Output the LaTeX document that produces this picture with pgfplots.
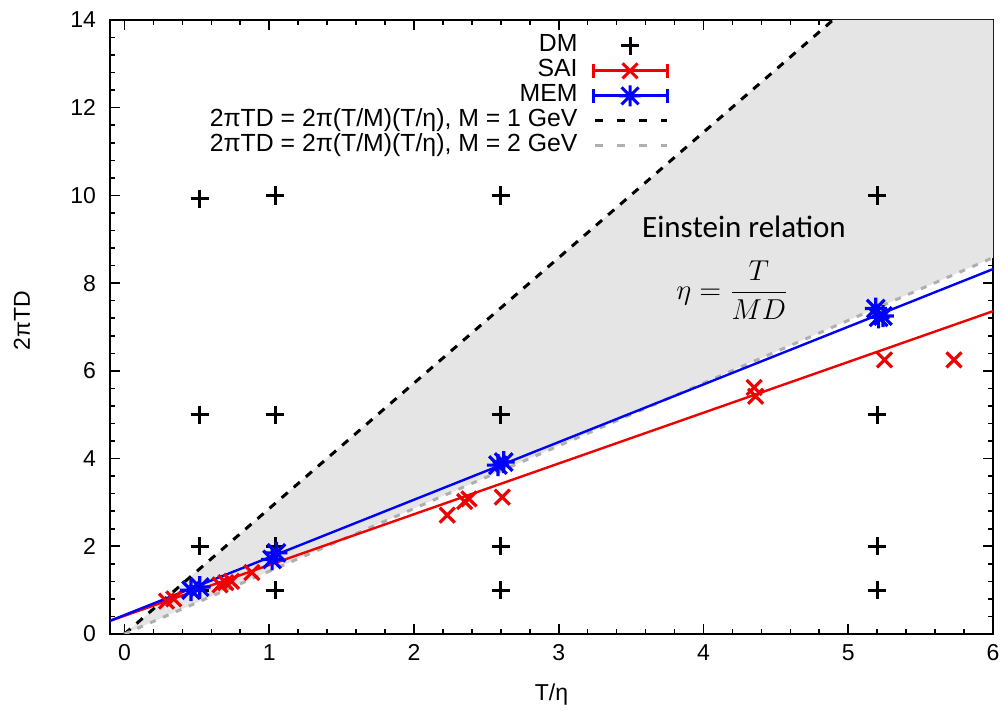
\documentclass[border=0pt]{standalone}
\usepackage{pgfplots}
\pgfplotsset{compat=1.18}
\usepackage{fontspec}
\setmainfont{Liberation Sans}
\newfontfamily\carlito{Carlito}
\definecolor{gpred}{RGB}{240,0,0}
\definecolor{gpblue}{RGB}{0,0,255}
\definecolor{shade}{RGB}{229,229,229}
\definecolor{dgray}{RGB}{175,175,175}
\pgfdeclareplotmark{gpstar}{%
  \pgfpathmoveto{\pgfqpoint{-\pgfplotmarksize}{0pt}}\pgfpathlineto{\pgfqpoint{\pgfplotmarksize}{0pt}}%
  \pgfpathmoveto{\pgfqpoint{0pt}{-\pgfplotmarksize}}\pgfpathlineto{\pgfqpoint{0pt}{\pgfplotmarksize}}%
  \pgfpathmoveto{\pgfqpoint{-0.8\pgfplotmarksize}{-0.8\pgfplotmarksize}}\pgfpathlineto{\pgfqpoint{0.8\pgfplotmarksize}{0.8\pgfplotmarksize}}%
  \pgfpathmoveto{\pgfqpoint{-0.8\pgfplotmarksize}{0.8\pgfplotmarksize}}\pgfpathlineto{\pgfqpoint{0.8\pgfplotmarksize}{-0.8\pgfplotmarksize}}%
  \pgfusepathqstroke}
\begin{document}
\begin{tikzpicture}
\useasboundingbox (-55pt,-38pt) rectangle (446.5pt,317pt);
\begin{axis}[
  at={(0,0)}, anchor=south west,
  scale only axis, width=441.5pt, height=307pt,
  xmin=-0.1, xmax=6, ymin=0, ymax=14,
  xtick={0,1,2,3,4,5,6}, ytick={0,2,4,6,8,10,12,14},
  minor x tick num=4, minor y tick num=4,
  tick align=inside,
  major tick length=5pt, minor tick length=2.5pt,
  every tick/.style={black, line width=0.8pt},
  axis line style={line width=1pt},
  ticklabel style={font=\fontsize{11.5}{13}\selectfont},
  /pgf/number format/assume math mode=true,
  yticklabel style={xshift=-3.5pt},
  xticklabel style={yshift=-1.7pt},
  xlabel={T/η}, ylabel={2πTD},
  label style={font=\fontsize{11.5}{13}\selectfont},
  xlabel style={at={(axis description cs:0.5,0)}, anchor=center, yshift=-30.5pt},
  ylabel style={at={(axis description cs:-0.0997,0.51)}, anchor=center},
  legend style={at={(0.633,0.978)}, anchor=north east, draw=none, fill=none,
    inner sep=0pt, row sep=0.5pt, column sep=7pt,
    font=\fontsize{12.4}{14}\selectfont,
    nodes={text height=8.8pt, text depth=2.7pt, inner ysep=0.25pt, inner xsep=0pt}},
  legend cell align=right,
  legend plot pos=right,
]
% shaded region between the two Einstein lines
\addplot[fill=shade, draw=none, forget plot] coordinates {(0,0) (4.895,14) (6,14) (6,8.58)} -- cycle;
% Einstein relation lines
\addplot[black, line width=1.5pt, dash pattern=on 4pt off 4pt, forget plot] coordinates {(0,0) (4.895,14)};
\addplot[dgray, line width=1.5pt, dash pattern=on 3pt off 4pt, forget plot] coordinates {(0,0) (6,8.58)};
% fit lines
\addplot[gpred, line width=1.2pt, forget plot] coordinates {(-0.1,0.30) (6,7.36)};
\addplot[gpblue, line width=1.2pt, forget plot] coordinates {(-0.1,0.30) (6,8.32)};
% DM
\addplot[only marks, black, mark=+, mark size=4.6pt, line width=1.5pt,
  legend image code/.code={\begin{scope}[black, line width=1.5pt, shift={(18.5pt,0pt)}]\pgfsetplotmarksize{4.6pt}\pgfuseplotmark{+}\end{scope}}]
  coordinates {
  (0.52,9.92) (0.52,5) (0.52,2) (0.52,1)
  (1.04,10) (1.04,5) (1.04,2) (1.04,1)
  (2.6,10) (2.6,5) (2.6,2) (2.6,1)
  (5.2,10) (5.2,5) (5.2,2) (5.2,1)
  };
\addlegendentry{DM}
% SAI
\addplot[only marks, gpred, mark=x, mark size=5.3pt, line width=1.6pt,
  legend image code/.code={\begin{scope}[gpred, line width=1.5pt]
    \draw (0pt,0pt) -- (37pt,0pt) (0pt,-3.5pt) -- (0pt,3.5pt) (37pt,-3.5pt) -- (37pt,3.5pt);
    \begin{scope}[shift={(18.5pt,0pt)}]\pgfsetplotmarksize{5.3pt}\pgfuseplotmark{x}\end{scope}\end{scope}}]
  coordinates {
  (0.29,0.75) (0.34,0.80) (0.66,1.12) (0.70,1.17) (0.74,1.20) (0.88,1.40)
  (2.23,2.71) (2.35,3.02) (2.38,3.08) (2.61,3.12)
  (4.35,5.62) (4.36,5.42) (5.25,6.25) (5.73,6.25)
  };
\addlegendentry{SAI}
% MEM
\addplot[only marks, gpblue, mark=gpstar, mark size=5.5pt, line width=1.6pt,
  legend image code/.code={\begin{scope}[gpblue, line width=1.5pt]
    \draw (0pt,0pt) -- (37pt,0pt) (0pt,-3.5pt) -- (0pt,3.5pt) (37pt,-3.5pt) -- (37pt,3.5pt);
    \begin{scope}[shift={(18.5pt,0pt)}]\pgfsetplotmarksize{5.3pt}\pgfuseplotmark{gpstar}\end{scope}\end{scope}}]
  coordinates {
  (0.46,1.00) (0.52,1.07) (1.02,1.70) (1.05,1.85)
  (2.58,3.85) (2.62,3.92) (5.19,7.42) (5.21,7.22) (5.24,7.25)
  };
\addlegendentry{MEM}
\addlegendimage{legend image code/.code={\draw[black, line width=1.5pt, dash pattern=on 4pt off 7pt] (1pt,0pt) -- (37pt,0pt);}}
\addlegendentry{2πTD = 2π(T/M)(T/η), M = 1 GeV}
\addlegendimage{legend image code/.code={\draw[dgray, line width=1.5pt, dash pattern=on 4pt off 7pt] (1pt,0pt) -- (37pt,0pt);}}
\addlegendentry{2πTD = 2π(T/M)(T/η), M = 2 GeV}
\node[font=\carlito\fontsize{15.5}{18}\selectfont] at (axis cs:4.28,9.28) {Einstein relation};
\node[font=\fontsize{13.5}{16}\selectfont] at (axis cs:4.2,7.84) {$\displaystyle\eta = \frac{T}{MD}$};
\end{axis}
\end{tikzpicture}
\end{document}
